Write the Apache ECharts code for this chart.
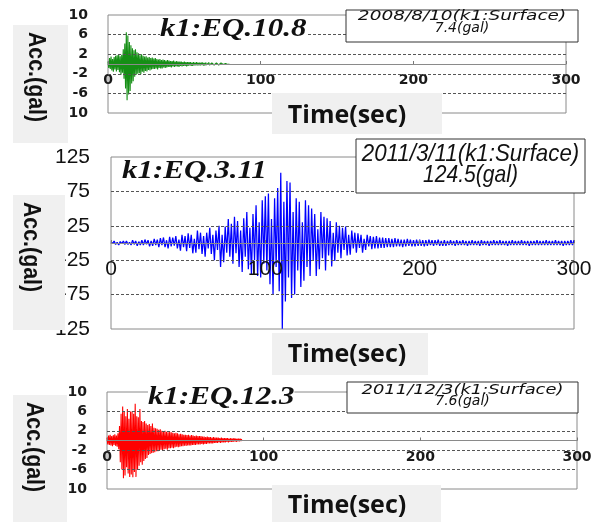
<!DOCTYPE html>
<html>
<head>
<meta charset="utf-8">
<script src="https://cdn.jsdelivr.net/npm/echarts@6/dist/echarts.min.js"></script>
<style>html,body{margin:0;padding:0;background:#fff;}#c{width:597px;height:522px;}</style>
</head>
<body>
<div id="c"></div>
<script>
// ---- Data (acceleration in gal, sampled at a fixed time step) ----
const DT1 = 0.5; // sec, EQ.10.8
const acc1 = [
 0.5,-0.8,1.2,-1.0,1.5,-1.3,1.0,-1.6,1.4,-1.1,1.7,
 -1.5,1.8,-1.2,2.0,-1.7,1.6,-2.2,1.9,-1.8,3.0,
 -3.0,4.2,-5.0,6.5,-7.4,5.8,-6.2,4.5,-5.5,3.8,
 -4.0,3.2,-3.5,2.8,-2.6,3.0,-2.2,2.4,-2.0,2.2,
 -1.9,1.8,-2.1,2.0,-1.6,1.7,-1.8,1.5,-1.4,1.6,-1.5,1.3,-1.2,1.4,-1.3,1.2,-1.1,1.3,-1.0,1.1,
 -1.0,1.2,-0.9,1.0,-1.1,0.9,-0.8,1.0,-0.9,0.8,-0.9,0.9,-0.7,0.8,-0.8,0.7,-0.7,0.8,-0.6,0.7,
 -0.6,0.6,-0.7,0.6,-0.5,0.7,-0.6,0.5,-0.5,0.6,-0.5,0.5,-0.6,0.5,-0.4,0.5,-0.5,0.4,-0.4,0.5,
 -0.4,0.4,-0.5,0.4,-0.4,0.4,-0.3,0.4,-0.4,0.3,-0.4,0.4,-0.3,0.3,-0.3,0.4,-0.3,0.3,-0.3,0.3,
 -0.3,0.3,-0.2,0.3,-0.3,0.2,-0.3,0.3,-0.2,0.2,-0.2,0.3,-0.2,0.2,-0.2,0.2,-0.2,0.2,-0.2,0.2,
 -0.2,0.2,-0.1,0.2,-0.2,0.1,-0.2,0.2,-0.1,0.1,-0.1,0.2,-0.1,0.1,-0.1,0.1,-0.1,0.1,0.0
];
const DT2 = 1; // sec, EQ.3.11
const acc2 = [
 2,-1,3,-2,1,-3,2,-1,3,-2,
 3,-2,1,-3,4,-2,3,-4,2,-3,
 4,-3,5,-2,4,-5,3,-4,6,-3,
 5,-6,7,-3,8,-6,4,-8,9,-5,
 8,-4,10,-8,5,-11,12,-6,10,-12,
 14,-7,12,-15,6,-14,18,-9,15,-16,
 10,-20,15,-8,22,-16,12,-25,18,-10,
 25,-35,12,-28,24,-14,35,-20,28,-30,
 38,-15,32,-35,18,-42,36,-20,45,-38,
 22,-45,42,-25,55,-48,30,-50,62,-30,
 68,-40,72,-60,35,-75,65,-35,80,-70,
 102,-124.5,60,-85,90,-50,88,-80,45,-75,
 65,-40,60,-64,30,-55,62,-35,55,-48,
 50,-25,42,-48,20,-38,45,-22,38,-40,
 36,-18,32,-34,15,-26,30,-14,25,-22,
 22,-10,24,-18,12,-17,18,-8,15,-14,
 14,-7,12,-14,6,-10,12,-5,10,-9,
 9,-8,10,-8,8,-7,8,-7,7,-6,
 7,-6,6,-6,7,-5,6,-5,5,-6,
 5,-5,6,-4,5,-5,4,-5,5,-4,
 5,-4,4,-5,4,-4,5,-3,4,-4,
 4,-3,5,-4,3,-4,4,-4,3,-3,
 4,-3,3,-4,4,-3,3,-3,4,-3,
 3,-4,3,-3,4,-3,3,-3,3,-4,
 4,-3,3,-3,3,-4,3,-3,4,-3,
 3,-3,4,-3,3,-3,3,-4,3,-3,
 4,-3,3,-3,3,-3,4,-3,3,-3,
 3,-4,3,-3,3,-3,4,-3,3,-3,
 3,-3,4,-3,3,-3,3,-3,4,-3,
 3,-3,3,-4,3,-3,3,-3,4,-3,4
];
const DT3 = 0.5; // sec, EQ.12.3
const acc3 = [
 0.6,-0.8,1.0,-0.9,1.2,-1.0,0.9,-1.2,1.1,-0.9,1.3,-1.1,1.0,-1.3,1.5,-1.8,
 3.0,-4.5,5.5,-6.0,7.0,-7.8,6.0,-7.2,5.0,-5.5,6.5,-6.8,4.5,-7.5,6.0,-7.0,
 6.0,-7.6,5.5,-6.5,7.6,-7.5,5.0,-6.0,4.8,-5.2,6.5,-4.5,4.0,-5.0,3.8,-4.2,
 4.0,-3.8,3.5,-3.6,3.2,-3.0,3.4,-2.8,3.0,-2.6,3.5,-2.5,2.6,-2.4,2.5,-2.2,
 2.4,-2.2,2.2,-2.0,2.3,-1.9,2.0,-2.1,1.9,-1.8,2.0,-1.7,1.8,-1.9,1.7,-1.6,
 1.8,-1.6,1.7,-1.5,1.6,-1.6,1.5,-1.4,1.6,-1.3,1.5,-1.4,1.3,-1.3,1.4,-1.2,1.3,-1.2,1.2,-1.1,
 1.2,-1.1,1.1,-1.0,1.2,-1.0,1.0,-1.0,1.1,-0.9,1.0,-0.9,0.9,-0.9,1.0,-0.8,0.9,-0.8,0.9,-0.8,
 0.9,-0.7,0.8,-0.8,0.8,-0.7,0.7,-0.7,0.8,-0.6,0.7,-0.6,0.7,-0.6,0.6,-0.6,0.7,-0.5,0.6,-0.5,
 0.6,-0.5,0.6,-0.4,0.5,-0.5,0.6,-0.4,0.5,-0.4,0.5,-0.4,0.5,-0.3,0.5,-0.4,0.4,-0.3,0.5,-0.3,
 0.4,-0.3,0.5,-0.2,0.4,-0.3,0.4,-0.2,0.4,-0.2,0.4,-0.1,0.3
];

// ---- Axis ticks / labels ----
const xTicks = [0, 100, 200, 300];
const yTicksSmall = [-10, -6, -2, 2, 6, 10];
const yLabelsSmall = ['10', '-6', '-2', '2', '6', '10'];
const gridSmall = [-6, -2, 2, 6];
const yTicksBig = [-125, -75, -25, 25, 75, 125];
const yLabelsBig = ['-125', '-75', '-25', '25', '75', '125'];
const gridBig = [-75, -25, 25, 75];

// ---- Texts ----
const titles = ['k1:EQ.10.8', 'k1:EQ.3.11', 'k1:EQ.12.3'];
const infoLine1 = ['2008/8/10(k1:Surface)', '2011/3/11(k1:Surface)', '2011/12/3(k1:Surface)'];
const infoLine2 = ['7.4(gal)', '124.5(gal)', '7.6(gal)'];
const yName = 'Acc.(gal)';
const xName = 'Time(sec)';
const colors = ['#158f15', '#0000ff', '#ff0000'];
const lineWidths = [1.1, 1.25, 1.1];

const chart = echarts.init(document.getElementById('c'), null, {renderer: 'canvas'});

const grids = [
  {left: 108, top: 15, width: 458, height: 98},
  {left: 111, top: 157, width: 463, height: 172},
  {left: 107, top: 392, width: 470, height: 97}
];
grids.forEach(g => { g.show = true; g.borderColor = '#8a8a8a'; g.borderWidth = 1; g.backgroundColor = 'transparent'; });

const smallLabelFont = {fontFamily: 'DejaVu Sans', fontWeight: 'bold', fontSize: 14, color: '#1a1a1a'};
const bigLabelFont = {fontFamily: '"Liberation Sans"', fontSize: 21, color: '#111'};

// x axis drawn through the middle (value 0) of each symmetric y range
function xAxis(i, font, margin) {
  return {
    type: 'value', gridIndex: i, min: 0, max: 300, interval: 100,
    position: 'bottom', offset: -grids[i].height / 2,
    axisLine: {show: true, onZero: false, lineStyle: {color: '#8a8a8a', width: 1}},
    axisTick: {show: true, inside: true, length: 3, lineStyle: {color: '#777'}},
    splitLine: {show: false},
    axisLabel: Object.assign({margin: margin, showMinLabel: true, showMaxLabel: true}, font),
    z: 3
  };
}
function yAxis(i, mn, mx, ticks, labels, font, margin) {
  return {
    type: 'value', gridIndex: i, min: mn, max: mx,
    axisLine: {show: false}, axisTick: {show: false}, splitLine: {show: false},
    axisLabel: Object.assign({
      margin: margin,
      customValues: ticks,
      formatter: v => { const k = ticks.indexOf(v); return k >= 0 ? labels[k] : ''; }
    }, font)
  };
}
function series(i, arr, dt, gridVals) {
  return {
    type: 'line', xAxisIndex: i, yAxisIndex: i,
    data: arr.map((v, k) => [k * dt, v]),
    showSymbol: false, symbol: 'none', sampling: null, animation: false,
    lineStyle: {color: colors[i], width: lineWidths[i]},
    markLine: {
      silent: true, symbol: 'none', animation: false,
      label: {show: false},
      lineStyle: {type: [3, 2], color: '#555', width: 1},
      data: gridVals.map(v => ({yAxis: v}))
    },
    z: 2
  };
}

const graphics = [];
// grey label boxes
const accBoxes = [
  {x: 13, y: 25, w: 55, h: 118, cx: 36, cy: 77},
  {x: 13, y: 195, w: 52, h: 135, cx: 31, cy: 247},
  {x: 13, y: 395, w: 54, h: 127, cx: 34, cy: 447}
];
const timeBoxes = [
  {x: 272, y: 93, w: 170, h: 41, cx: 347, cy: 116},
  {x: 272, y: 333, w: 156, h: 42, cx: 347, cy: 355},
  {x: 272, y: 485, w: 169, h: 37, cx: 347, cy: 506}
];
accBoxes.forEach(b => {
  graphics.push({type: 'rect', z: 100, shape: {x: b.x, y: b.y, width: b.w, height: b.h}, style: {fill: '#f0f0f0'}});
  graphics.push({type: 'text', z: 101, x: b.cx, y: b.cy, rotation: -Math.PI / 2, scaleX: 0.89,
    style: {text: yName, font: 'bold 24px "Liberation Sans"', fill: '#111',
      align: 'center', verticalAlign: 'middle', textAlign: 'center', textVerticalAlign: 'middle'}});
});
timeBoxes.forEach(b => {
  graphics.push({type: 'rect', z: 100, shape: {x: b.x, y: b.y, width: b.w, height: b.h}, style: {fill: '#f0f0f0'}});
  graphics.push({type: 'text', z: 101, x: b.cx, y: b.cy,
    style: {text: xName, font: 'bold 25px "Open Sans"', fill: '#111',
      align: 'center', verticalAlign: 'middle', textAlign: 'center', textVerticalAlign: 'middle'}});
});
// titles
const titlePos = [{x: 160, y: 30}, {x: 122, y: 172}, {x: 148, y: 398}];
titlePos.forEach((p, i) => {
  graphics.push({type: 'text', z: 101, x: p.x, y: p.y, scaleX: 1.24,
    style: {text: titles[i], font: 'italic bold 25px "Liberation Serif"', fill: '#111',
      backgroundColor: '#fff', align: 'left', verticalAlign: 'middle', textAlign: 'left', textVerticalAlign: 'middle'}});
});
// info boxes
const infoBoxes = [
  {x: 346, y: 10, w: 232, h: 32, l1: 16.5, l2: 28.5, font: 'italic 14px "DejaVu Sans"', s1: 1.32, s2: 1.0},
  {x: 356, y: 139, w: 229, h: 54, l1: 154, l2: 175, font: 'italic 24px "Liberation Sans"', s1: 0.93, s2: 0.88},
  {x: 347, y: 382, w: 231, h: 31, l1: 390.5, l2: 401.5, font: 'italic 14px "DejaVu Sans"', s1: 1.28, s2: 1.0}
];
infoBoxes.forEach((b, i) => {
  const cx = b.x + b.w / 2;
  graphics.push({type: 'rect', z: 100, shape: {x: b.x, y: b.y, width: b.w, height: b.h}, style: {fill: '#fff', stroke: '#333', lineWidth: 1}});
  graphics.push({type: 'text', z: 101, x: cx, y: b.l1, scaleX: b.s1,
    style: {text: infoLine1[i], font: b.font, fill: '#111', align: 'center', verticalAlign: 'middle', textAlign: 'center', textVerticalAlign: 'middle'}});
  graphics.push({type: 'text', z: 101, x: cx, y: b.l2, scaleX: b.s2,
    style: {text: infoLine2[i], font: b.font, fill: '#111', align: 'center', verticalAlign: 'middle', textAlign: 'center', textVerticalAlign: 'middle'}});
});

chart.setOption({
  animation: false,
  backgroundColor: '#fff',
  grid: grids,
  xAxis: [xAxis(0, smallLabelFont, 9), xAxis(1, bigLabelFont, 16), xAxis(2, smallLabelFont, 10)],
  yAxis: [
    yAxis(0, -10, 10, yTicksSmall, yLabelsSmall, smallLabelFont, 20),
    yAxis(1, -125, 125, yTicksBig, yLabelsBig, bigLabelFont, 21),
    yAxis(2, -10, 10, yTicksSmall, yLabelsSmall, smallLabelFont, 20)
  ],
  series: [series(0, acc1, DT1, gridSmall), series(1, acc2, DT2, gridBig), series(2, acc3, DT3, gridSmall)],
  graphic: {elements: graphics}
});
</script>
</body>
</html>
